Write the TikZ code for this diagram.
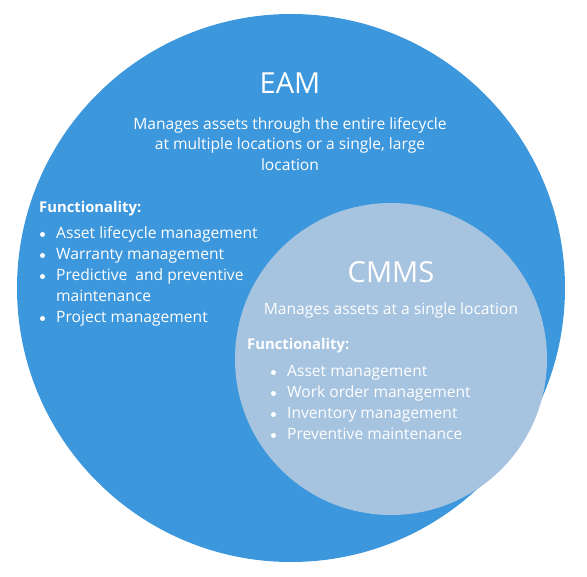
\documentclass[tikz,border=0pt]{standalone}
\usepackage{fontspec}
\setmainfont{Open Sans}
\usetikzlibrary{positioning}
\definecolor{eam blue}{HTML}{3D97DC}
\definecolor{cmms blue}{HTML}{A6C3E0}
\tikzset{
  venn circle/.style={
    circle,
    inner sep=0pt,
    draw=none,
  },
  venn title/.style={
    text=white,
    font=\fontsize{29}{31}\selectfont,
    inner sep=0pt,
  },
  venn desc/.style={
    text=white,
    font=\fontsize{15.6}{20.5}\selectfont,
    align=center,
    inner sep=0pt,
  },
  venn head/.style={
    text=white,
    font=\fontsize{14.8}{16}\selectfont\bfseries,
    anchor=base west,
    inner sep=0pt,
  },
  venn item/.style={
    text=white,
    font=\fontsize{15.6}{21}\selectfont,
    anchor=base west,
    inner sep=0pt,
  },
}

\begin{document}
\begin{tikzpicture}[x=1pt,y=-1pt]
  \useasboundingbox (0,0) rectangle (587,577);

  % the two circles
  \node[venn circle,fill=eam blue,minimum size=548pt] (eam) at (291,288) {};
  \node[venn circle,fill=cmms blue,minimum size=312pt] (cmms) at (391,359) {};

  % EAM part
  \node[venn title] (eam_t) at (290,83) {EAM};
  \node[venn desc] (eam_d) at (290,144)
    {Manages assets through the entire lifecycle\\
     at multiple locations or a single, large\\
     location};
  \node[venn head] (eam_h) at (39,213) {Functionality:};
  \foreach \txt/\yy [count=\i] in {Asset lifecycle management/239,
      Warranty management/260,Predictive\ \ and preventive/281,
      Project management/323}
  {
    \node[venn item] (eam_i\i) at (56,\yy) {\txt};
    \fill[white] ([xshift=-13.5pt,yshift=4.5pt]eam_i\i.base west) circle (2.5pt);
  }
  \node[venn item] (eam_m) at (56,302) {maintenance};

  % CMMS part
  \node[venn title] (cmms_t) at (391,272) {CMMS};
  \node[venn desc] (cmms_d) at (391,310.5) {Manages assets at a single location};
  \node[venn head] (cmms_h) at (247,350) {Functionality:};
  \foreach \txt/\yy [count=\i] in {Asset management/377,
      Work order management/398,Inventory management/419,
      Preventive maintenance/440}
  {
    \node[venn item] (cmms_i\i) at (287,\yy) {\txt};
    \fill[white] ([xshift=-13.5pt,yshift=4.5pt]cmms_i\i.base west) circle (2.5pt);
  }
\end{tikzpicture}
\end{document}
